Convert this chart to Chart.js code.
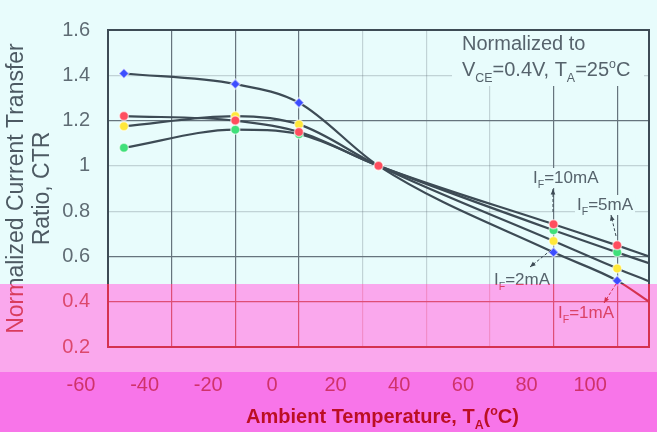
<!DOCTYPE html>
<html>
<head>
<meta charset="utf-8">
<script src="https://cdn.jsdelivr.net/npm/chart.js@4.4.1/dist/chart.umd.min.js"></script>
<style>
  html, body { margin: 0; padding: 0; background: #e8fcfc; }
  #wrap { width: 657px; height: 432px; }
</style>
</head>
<body>
<div id="wrap"><canvas id="grafico" width="657" height="432"></canvas></div>
<script>
const temperaturas = [-55, -20, 0, 25, 80, 100, 110];
const ctr5mA  = [1.22, 1.20, 1.15, 1.00, 0.742, 0.649, 0.60];
const ctr10mA = [1.08, 1.16, 1.14, 1.00, 0.716, 0.618, 0.57];
const ctr2mA  = [1.175, 1.22, 1.183, 1.00, 0.668, 0.547, 0.49];
const ctr1mA  = [1.408, 1.361, 1.279, 1.00, 0.618, 0.493, 0.40];

const xTicks = [-60, -40, -20, 0, 20, 40, 60, 80, 100];
const yTicks = [0.2, 0.4, 0.6, 0.8, 1.0, 1.2, 1.4, 1.6];
const yTickLabels = ["0.2", "0.4", "0.6", "0.8", "1", "1.2", "1.4", "1.6"];

const FONTE = '"Liberation Sans", Arial, sans-serif';
const FUNDO = "#e8fcfc";
const LINHA = "#3d4b55";

// linhas de grade que aparecem fortes; as outras ficam quase apagadas
const xFortes = [-40, -20, 0, 80, 100];
const yFortes = [0.4, 0.6, 1.2];

function serie(valores, cor, forma, raio) {
  return {
    data: temperaturas.map((t, i) => ({ x: t, y: valores[i] })),
    borderColor: LINHA,
    borderWidth: 2.2,
    cubicInterpolationMode: "monotone",
    pointStyle: forma,
    pointBackgroundColor: cor,
    pointBorderColor: "rgba(255,255,255,0.55)",
    pointBorderWidth: 1.5,
    pointRadius: ctx => temperaturas[ctx.dataIndex] === 110 ? 0 : raio,
  };
}

// texto com subscrito / sobrescrito
function textoRico(c, x, y, partes, tam, cor, peso, soMedir) {
  let px = x;
  for (const [t, tipo] of partes) {
    const s = tipo ? tam * 0.62 : tam;
    c.font = `${peso || "normal"} ${s}px ${FONTE}`;
    const dy = tipo === "sub" ? tam * 0.28 : tipo === "sup" ? -tam * 0.42 : 0;
    if (!soMedir) {
      c.fillStyle = cor;
      c.fillText(t, px, y + dy);
    }
    px += c.measureText(t).width;
  }
  return px - x;
}

function seta(c, x1, y1, x2, y2) {
  const ang = Math.atan2(y2 - y1, x2 - x1);
  c.strokeStyle = LINHA;
  c.fillStyle = LINHA;
  c.lineWidth = 1;
  c.setLineDash([3, 2]);
  c.beginPath(); c.moveTo(x1, y1); c.lineTo(x2, y2); c.stroke();
  c.setLineDash([]);
  c.beginPath();
  c.moveTo(x2, y2);
  c.lineTo(x2 - 6 * Math.cos(ang - 0.4), y2 - 6 * Math.sin(ang - 0.4));
  c.lineTo(x2 - 6 * Math.cos(ang + 0.4), y2 - 6 * Math.sin(ang + 0.4));
  c.closePath(); c.fill();
}

const rotulosCurvas = [
  { x: 533, y: 183, partes: [["I", ""], ["F", "sub"], ["=10mA", ""]], seta: [553, 212, 553, 189] },
  { x: 577, y: 210, partes: [["I", ""], ["F", "sub"], ["=5mA", ""]], seta: [616, 236, 611, 215] },
  { x: 494, y: 285, partes: [["I", ""], ["F", "sub"], ["=2mA", ""]], seta: [551, 250, 530, 267] },
  { x: 558, y: 318, partes: [["I", ""], ["F", "sub"], ["=1mA", ""]], seta: [616, 284, 604, 303] },
];

const desenhos = {
  id: "desenhos",
  beforeDraw(chart) {
    const c = chart.ctx;
    c.save();
    c.fillStyle = FUNDO;
    c.fillRect(0, 0, chart.width, chart.height);
    c.restore();
  },
  afterDraw(chart) {
    const c = chart.ctx, a = chart.chartArea, W = chart.width;
    c.save();
    c.textBaseline = "alphabetic";

    // nota do canto superior direito
    c.fillStyle = FUNDO;
    c.fillRect(452, 22, 192, 64);
    textoRico(c, 462, 50, [["Normalized to", ""]], 20, "#56636c");
    textoRico(c, 462, 76, [["V", ""], ["CE", "sub"], ["=0.4V, T", ""], ["A", "sub"], ["=25", ""], ["o", "sup"], ["C", ""]], 20, "#56636c");

    // rótulos das curvas
    for (const r of rotulosCurvas) {
      const w = textoRico(c, r.x, r.y, r.partes, 17, "", null, true);
      c.fillStyle = FUNDO;
      c.fillRect(r.x - 2, r.y - 15, w + 4, 20);
      textoRico(c, r.x, r.y, r.partes, 17, "#56636c");
      seta(c, ...r.seta);
    }

    // moldura
    c.strokeStyle = LINHA;
    c.lineWidth = 2;
    c.strokeRect(a.left, a.top, a.right - a.left, a.bottom - a.top);

    // título do eixo x
    const partesX = [["Ambient Temperature, T", ""], ["A", "sub"], ["(", ""], ["o", "sup"], ["C)", ""]];
    const wx = textoRico(c, 0, 0, partesX, 20, "", "bold", true);
    textoRico(c, (a.left + a.right) / 2 + 4 - wx / 2, 423, partesX, 20, "#1a1e26", "bold");

    // faixas rosadas da parte de baixo da figura
    c.globalCompositeOperation = "multiply";
    c.fillStyle = "rgb(255,170,240)";
    c.fillRect(0, 284, W, 88);
    c.fillStyle = "rgb(255,118,236)";
    c.fillRect(0, 372, W, 60);
    c.globalCompositeOperation = "screen";
    c.fillStyle = "rgb(200,0,0)";
    c.fillRect(0, 284, W, 88);
    c.fillStyle = "rgb(180,0,0)";
    c.fillRect(0, 372, W, 60);
    c.restore();
  }
};

new Chart(document.getElementById("grafico").getContext("2d"), {
  type: "line",
  data: {
    datasets: [
      serie(ctr5mA, "#ff4d5e", "circle", 4.5),
      serie(ctr10mA, "#3fe07a", "circle", 4.5),
      serie(ctr2mA, "#ffe83a", "circle", 4.5),
      serie(ctr1mA, "#3c4dff", "rectRot", 5),
    ]
  },
  options: {
    responsive: false,
    animation: false,
    layout: { padding: { left: 0, right: 8, top: 19, bottom: 0 } },
    plugins: { legend: { display: false }, tooltip: { enabled: false } },
    scales: {
      x: {
        type: "linear",
        min: -60,
        max: 110,
        afterBuildTicks: s => { s.ticks = xTicks.map(v => ({ value: v })); },
        afterFit: s => { s.height = 85; s.paddingLeft = 0; s.paddingRight = 0; },
        border: { display: false },
        grid: {
          drawTicks: false,
          lineWidth: 1.2,
          color: ctx => xFortes.includes(ctx.tick && ctx.tick.value) ? "#66747d" : "rgba(102,116,125,0.3)",
        },
        ticks: {
          padding: 26,
          labelOffset: -27,
          color: "#5f6c74",
          font: { family: FONTE, size: 20 },
          callback: v => String(v),
        },
      },
      y: {
        min: 0.2,
        max: 1.6,
        afterBuildTicks: s => { s.ticks = yTicks.map(v => ({ value: v })); },
        afterFit: s => { s.width = 108; },
        border: { display: false },
        grid: {
          drawTicks: false,
          lineWidth: 1.2,
          color: ctx => yFortes.some(v => Math.abs(v - (ctx.tick ? ctx.tick.value : -9)) < 1e-6) ? "#66747d" : "rgba(102,116,125,0.3)",
        },
        ticks: {
          padding: 18,
          color: "#5f6c74",
          font: { family: FONTE, size: 20 },
          callback: (v, i) => yTickLabels[i],
        },
        title: {
          display: true,
          text: ["Normalized Current Transfer", "Ratio, CTR"],
          color: "#4d5a63",
          font: { family: FONTE, size: 23, lineHeight: 1.13 },
          padding: { top: 4, bottom: 0 },
        },
      },
    },
  },
  plugins: [desenhos],
});
</script>
</body>
</html>
